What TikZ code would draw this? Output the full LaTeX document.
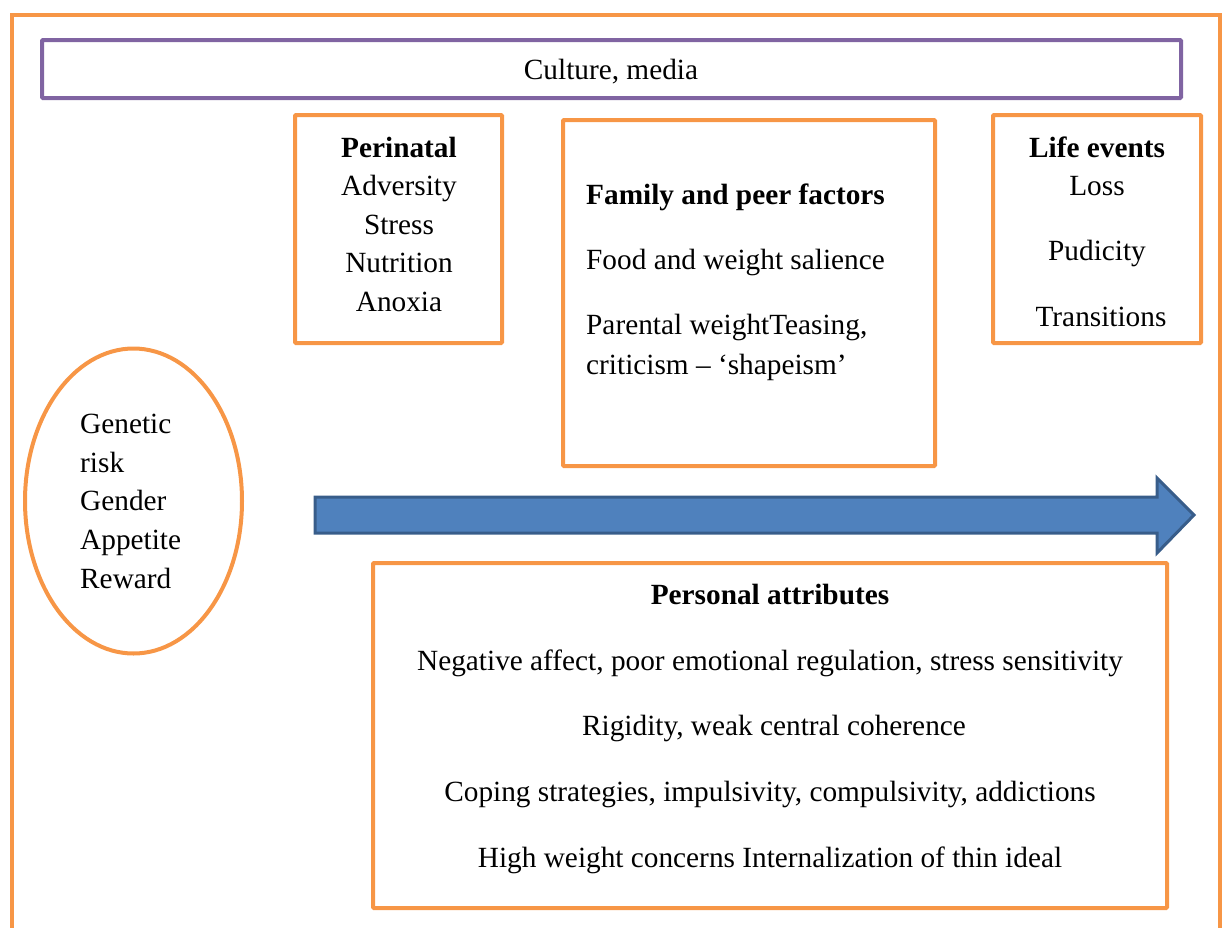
\documentclass[tikz,border=0pt]{standalone}
\usepackage{fontspec}
\setmainfont{Liberation Serif}
\definecolor{orng}{HTML}{F79646}
\definecolor{purp}{HTML}{8064A2}
\definecolor{afill}{HTML}{4F81BD}
\definecolor{aline}{HTML}{385D8A}
\begin{document}
\begin{tikzpicture}[x=1pt,y=-1pt,
  obox/.style={draw=orng,line width=4pt,rounded corners=1pt},
  txt/.style={anchor=base,inner sep=0pt,font=\fontsize{29.3}{34}\selectfont},
  ltxt/.style={txt,anchor=base west},
  btxt/.style={txt,font=\fontsize{29.3}{34}\selectfont\bfseries}]
\useasboundingbox (0,0) rectangle (1227,927);
\begin{scope}
\clip (0,0) rectangle (1227,927);
\draw[draw=orng,line width=4pt] (12,940) -- (12,15) -- (1220,15) -- (1220,940);
\end{scope}
% culture
\node[draw=purp,line width=4pt,rounded corners=1pt,minimum width=1139pt,minimum height=58pt,inner sep=0pt] (culture) at (611.5,69) {};
\node[txt] (cultt) at (611,79) {Culture, media};
% perinatal
\node[obox,minimum width=207pt,minimum height=228pt,inner sep=0pt] (peri) at (398.5,229) {};
\node[btxt] (p0) at (399,157) {Perinatal};
\node[txt] (p1) at (399,195) {Adversity};
\node[txt] (p2) at (399,234) {Stress};
\node[txt] (p3) at (399,272) {Nutrition};
\node[txt] (p4) at (399,311) {Anoxia};
% family
\node[obox,minimum width=372pt,minimum height=346pt,inner sep=0pt] (fam) at (749,293) {};
\node[btxt,anchor=base west] (f0) at (586,204) {Family and peer factors};
\node[ltxt] (f1) at (586,269) {Food and weight salience};
\node[ltxt] (f2) at (586,334) {Parental weightTeasing,};
\node[ltxt] (f3) at (586,374) {criticism -- `shapeism'};
% life events
\node[obox,minimum width=208pt,minimum height=228pt,inner sep=0pt] (life) at (1097,229) {};
\node[btxt] (l0) at (1097,157) {Life events};
\node[txt] (l1) at (1097,195) {Loss};
\node[txt] (l2) at (1097,260) {Pudicity};
\node[txt] (l3) at (1101,326) {Transitions};
% ellipse
\draw[draw=orng,line width=4pt] (133.5,501) ellipse [x radius=108.5, y radius=152.5];
\node[ltxt] (g1) at (80,433) {Genetic};
\node[ltxt] (g2) at (80,472) {risk};
\node[ltxt] (g3) at (80,510) {Gender};
\node[ltxt] (g4) at (80,549) {Appetite};
\node[ltxt] (g5) at (80,588) {Reward};
% arrow
\draw[fill=afill,draw=aline,line width=3pt,line join=miter] (315,497) -- (1157,497) -- (1157,478) -- (1194,515) -- (1157,553) -- (1157,533) -- (315,533) -- cycle;
% personal
\node[obox,minimum width=794pt,minimum height=345pt,inner sep=0pt] (pers) at (770,735.5) {};
\node[btxt] (a0) at (770,604) {Personal attributes};
\node[txt] (a1) at (770,670) {Negative affect, poor emotional regulation, stress sensitivity};
\node[txt] (a2) at (774,735) {Rigidity, weak central coherence};
\node[txt] (a3) at (770,801) {Coping strategies, impulsivity, compulsivity, addictions};
\node[txt] (a4) at (770,867) {High weight concerns Internalization of thin ideal};
\end{tikzpicture}
\end{document}
